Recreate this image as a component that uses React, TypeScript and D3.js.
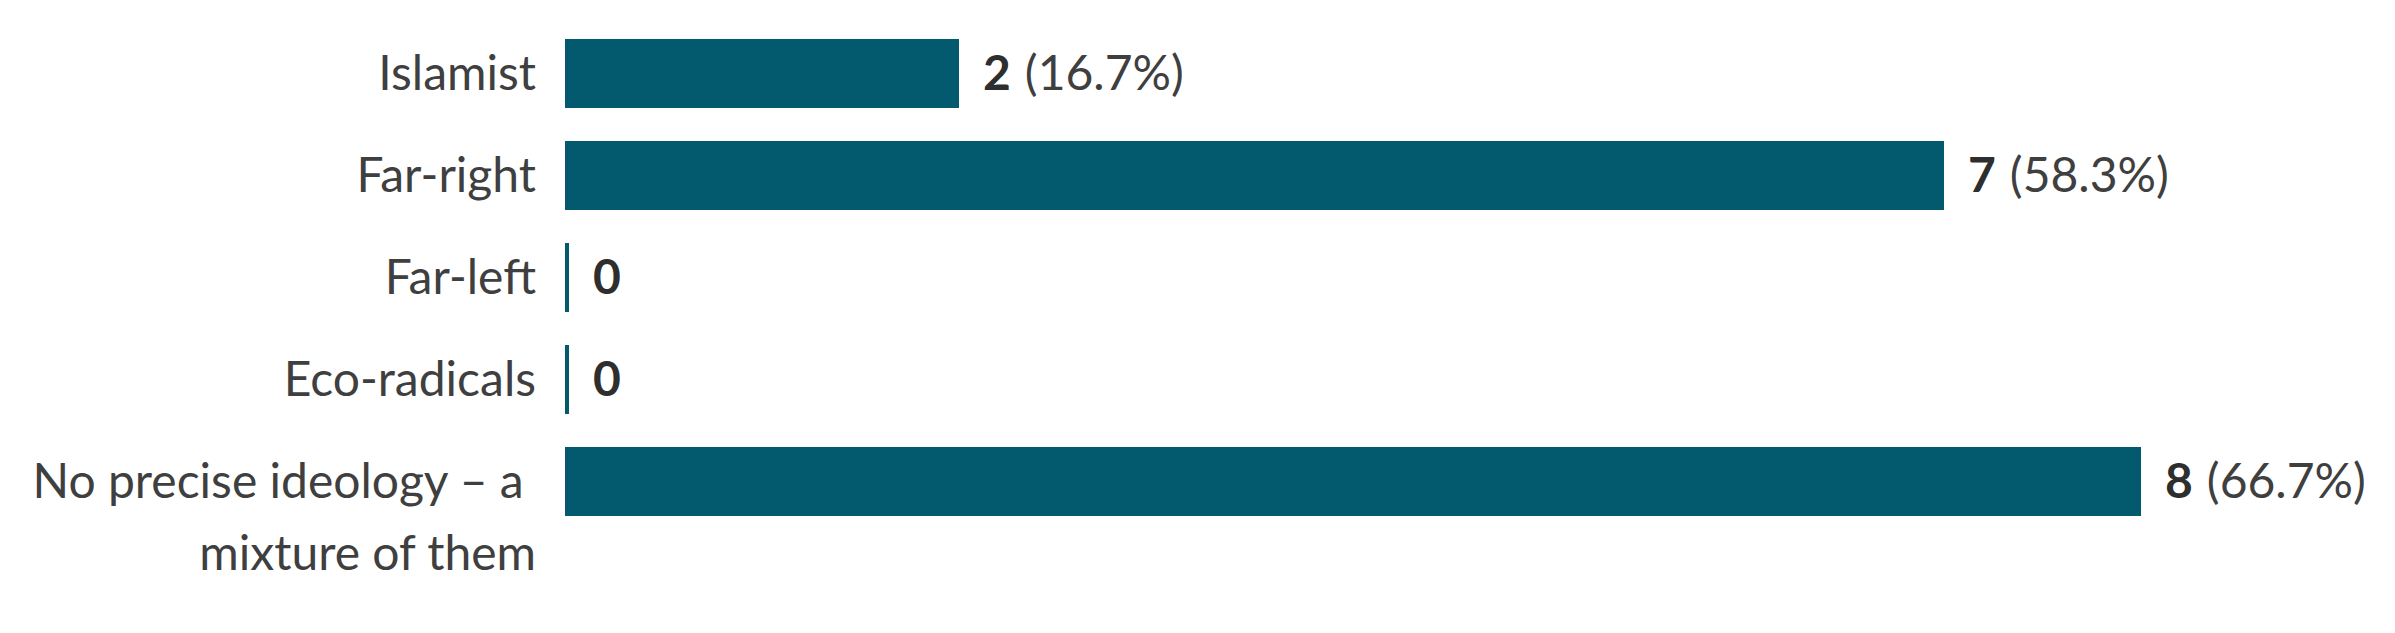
import React, { useEffect, useRef } from "react";
import * as d3 from "d3";

// categories (label lines) and counts
const categories = ["Islamist", "Far-right", "Far-left", "Eco-radicals", "No precise ideology"];
const labelLines = [
  ["Islamist"],
  ["Far-right"],
  ["Far-left"],
  ["Eco-radicals"],
  ["No precise ideology – a ", "mixture of them"],
];
const counts = [2, 7, 0, 0, 8];
const respondents = 12;

const App = () => {
  const svgRef = useRef<SVGSVGElement | null>(null);

  useEffect(() => {
    document.body.style.margin = "0";

    var width = 2395;
    var height = 633;
    var margin = { top: 39, left: 565, right: 254, bottom: 117 };

    var svg = d3.select(svgRef.current)
      .attr("width", width)
      .attr("height", height);
    svg.selectAll("*").remove();

    var x = d3.scaleLinear()
      .domain([0, 8])
      .range([margin.left, width - margin.right]);

    var y = d3.scaleBand<string>()
      .domain(categories)
      .range([margin.top, height - margin.bottom])
      .paddingInner(0.3235)
      .paddingOuter(0);

    var barColor = "#03596e";
    var textColor = "#3f3f3f";
    var font = "Lato, 'Open Sans', sans-serif";
    var fontSize = 48;
    var minBar = 4;

    var rows = categories.map((c, i) => ({ cat: c, value: counts[i], lines: labelLines[i] }));

    // bars (zero values drawn as a thin stub)
    svg.append("g")
      .selectAll("rect")
      .data(rows)
      .join("rect")
      .attr("x", x(0))
      .attr("y", (d) => y(d.cat)!)
      .attr("width", (d) => Math.max(x(d.value) - x(0), minBar))
      .attr("height", y.bandwidth())
      .attr("fill", barColor);

    // category labels
    var labels = svg.append("g")
      .attr("font-family", font)
      .attr("font-size", fontSize)
      .attr("fill", textColor)
      .attr("text-anchor", "end")
      .selectAll("text")
      .data(rows)
      .join("text")
      .attr("x", x(0) - 29)
      .attr("y", (d) => y(d.cat)! + y.bandwidth() / 2)
      .style("white-space", "pre");

    labels.selectAll("tspan")
      .data((d) => d.lines)
      .join("tspan")
      .attr("x", x(0) - 29)
      .attr("dy", (_d, i) => (i === 0 ? "0.35em" : "1.5em"))
      .text((d) => d);

    // value labels
    var pct = d3.format(".1f");
    var values = svg.append("g")
      .attr("font-family", font)
      .attr("font-size", fontSize)
      .attr("fill", textColor)
      .selectAll("text")
      .data(rows)
      .join("text")
      .attr("x", (d) => x(0) + Math.max(x(d.value) - x(0), minBar) + 24)
      .attr("y", (d) => y(d.cat)! + y.bandwidth() / 2)
      .attr("dy", "0.35em");

    values.append("tspan")
      .attr("font-weight", 700)
      .attr("fill", "#2e2e2e")
      .text((d) => d.value);

    values.filter((d) => d.value > 0)
      .append("tspan")
      .attr("dx", 14)
      .text((d) => "(" + pct((d.value / respondents) * 100) + "%)");
  }, []);

  return <svg ref={svgRef} style={{ display: "block" }} />;
};

export default App;
